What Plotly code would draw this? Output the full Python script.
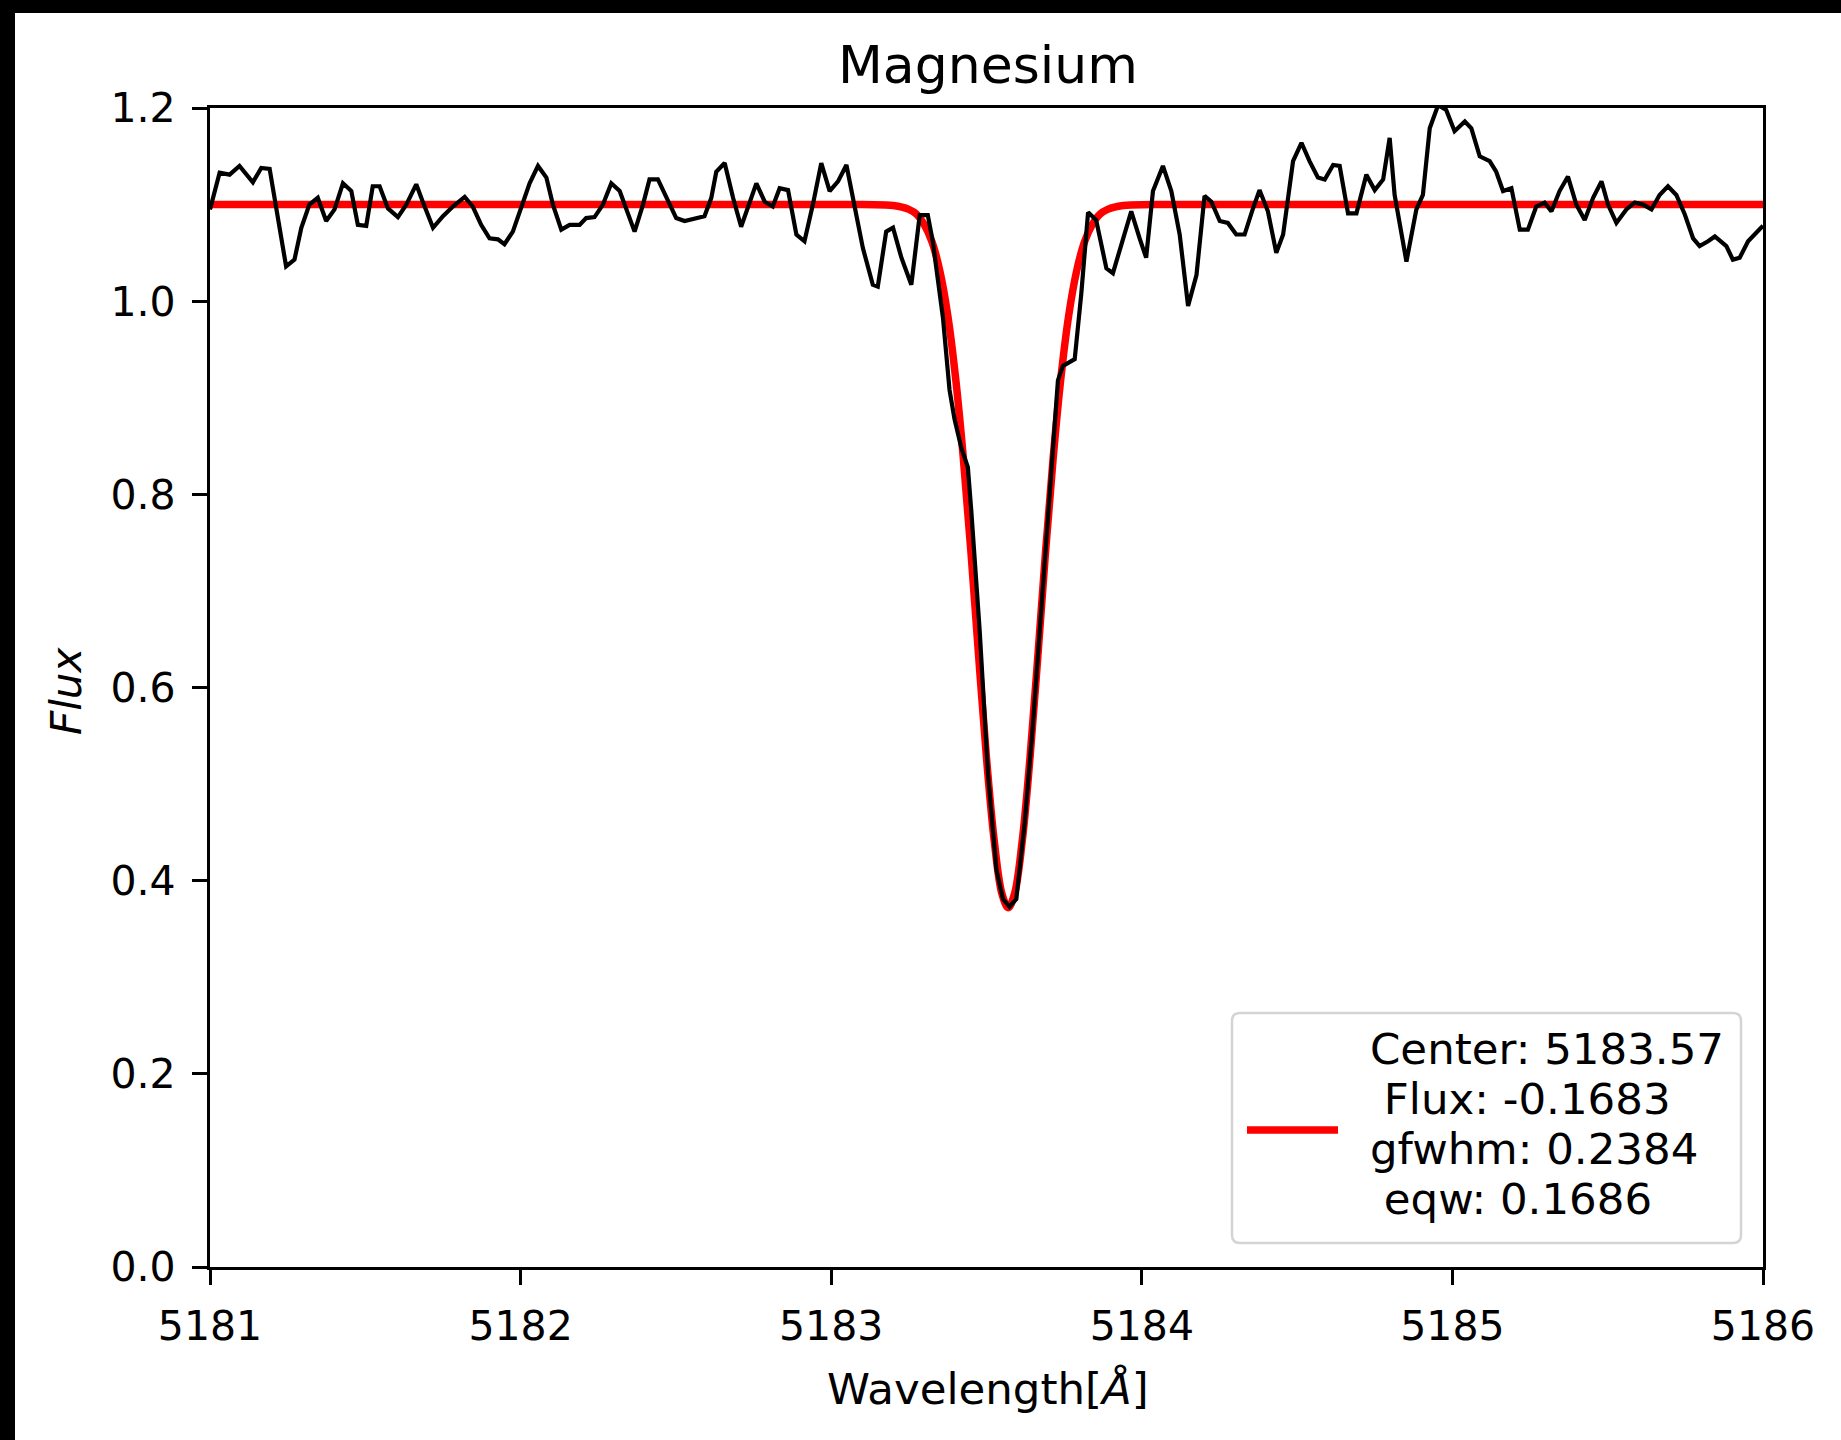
import plotly.graph_objects as go

# observed spectrum (wavelength in Angstrom, normalised flux)
wave = [
    5181.000, 5181.031, 5181.063, 5181.095, 5181.138, 5181.165, 5181.192, 5181.245, 5181.272, 5181.294,
    5181.320, 5181.347, 5181.374, 5181.401, 5181.428, 5181.455, 5181.476, 5181.503, 5181.524, 5181.546,
    5181.573, 5181.605, 5181.632, 5181.664, 5181.685, 5181.718, 5181.750, 5181.782, 5181.820, 5181.846,
    5181.873, 5181.900, 5181.927, 5181.948, 5181.975, 5182.002, 5182.029, 5182.056, 5182.083, 5182.104,
    5182.131, 5182.158, 5182.190, 5182.211, 5182.238, 5182.265, 5182.292, 5182.319, 5182.367, 5182.394,
    5182.415, 5182.442, 5182.469, 5182.501, 5182.528, 5182.560, 5182.592, 5182.614, 5182.630, 5182.657,
    5182.684, 5182.710, 5182.737, 5182.759, 5182.786, 5182.812, 5182.834, 5182.861, 5182.888, 5182.914,
    5182.941, 5182.968, 5182.995, 5183.022, 5183.049, 5183.075, 5183.102, 5183.134, 5183.150, 5183.177,
    5183.199, 5183.226, 5183.258, 5183.285, 5183.311, 5183.327, 5183.360, 5183.381, 5183.397, 5183.419,
    5183.440, 5183.451, 5183.478, 5183.505, 5183.532, 5183.553, 5183.574, 5183.596, 5183.623, 5183.649,
    5183.682, 5183.714, 5183.730, 5183.746, 5183.784, 5183.805, 5183.827, 5183.853, 5183.886, 5183.907,
    5183.939, 5183.966, 5183.993, 5184.014, 5184.036, 5184.068, 5184.095, 5184.122, 5184.149, 5184.176,
    5184.202, 5184.224, 5184.251, 5184.277, 5184.304, 5184.331, 5184.358, 5184.379, 5184.406, 5184.433,
    5184.455, 5184.487, 5184.514, 5184.540, 5184.567, 5184.589, 5184.616, 5184.637, 5184.664, 5184.691,
    5184.723, 5184.750, 5184.777, 5184.798, 5184.814, 5184.852, 5184.884, 5184.905, 5184.927, 5184.954,
    5184.980, 5185.007, 5185.040, 5185.061, 5185.088, 5185.120, 5185.141, 5185.163, 5185.190, 5185.217,
    5185.243, 5185.270, 5185.297, 5185.319, 5185.345, 5185.372, 5185.399, 5185.426, 5185.453, 5185.480,
    5185.501, 5185.528, 5185.560, 5185.587, 5185.614, 5185.641, 5185.667, 5185.694, 5185.721, 5185.748,
    5185.775, 5185.796, 5185.823, 5185.845, 5185.882, 5185.903, 5185.925, 5185.952, 5186.000,
]
flux = [
    1.095, 1.133, 1.131, 1.140, 1.123, 1.138, 1.137, 1.036, 1.043, 1.076,
    1.100, 1.107, 1.083, 1.095, 1.122, 1.114, 1.079, 1.078, 1.119, 1.119,
    1.096, 1.087, 1.100, 1.121, 1.103, 1.076, 1.088, 1.098, 1.108, 1.098,
    1.079, 1.065, 1.064, 1.059, 1.072, 1.096, 1.122, 1.140, 1.128, 1.100,
    1.074, 1.079, 1.079, 1.086, 1.087, 1.100, 1.122, 1.114, 1.072, 1.100,
    1.126, 1.126, 1.107, 1.086, 1.083, 1.086, 1.088, 1.107, 1.134, 1.143,
    1.107, 1.077, 1.103, 1.122, 1.103, 1.098, 1.117, 1.115, 1.069, 1.062,
    1.100, 1.143, 1.114, 1.124, 1.141, 1.100, 1.055, 1.017, 1.015, 1.072,
    1.076, 1.045, 1.017, 1.089, 1.089, 1.062, 0.982, 0.908, 0.878, 0.848,
    0.828, 0.783, 0.659, 0.510, 0.411, 0.381, 0.373, 0.381, 0.460, 0.560,
    0.709, 0.858, 0.918, 0.933, 0.940, 1.007, 1.092, 1.084, 1.034, 1.029,
    1.062, 1.093, 1.065, 1.045, 1.114, 1.140, 1.114, 1.069, 0.995, 1.027,
    1.109, 1.103, 1.083, 1.081, 1.069, 1.069, 1.096, 1.115, 1.093, 1.050,
    1.069, 1.145, 1.164, 1.145, 1.128, 1.126, 1.141, 1.140, 1.091, 1.091,
    1.131, 1.115, 1.126, 1.169, 1.110, 1.041, 1.095, 1.110, 1.179, 1.203,
    1.198, 1.176, 1.186, 1.179, 1.150, 1.145, 1.134, 1.114, 1.117, 1.074,
    1.074, 1.098, 1.102, 1.093, 1.114, 1.129, 1.100, 1.084, 1.107, 1.124,
    1.100, 1.081, 1.095, 1.102, 1.100, 1.095, 1.110, 1.119, 1.110, 1.090,
    1.065, 1.057, 1.062, 1.067, 1.057, 1.043, 1.045, 1.062, 1.078,
]

# gaussian fit as drawn (red)
fit_wave = [
    5181.00, 5183.10, 5183.20, 5183.25, 5183.275, 5183.30, 5183.325, 5183.35, 5183.375, 5183.40,
    5183.425, 5183.45, 5183.475, 5183.50, 5183.525, 5183.55, 5183.57, 5183.59, 5183.615, 5183.64,
    5183.665, 5183.69, 5183.715, 5183.74, 5183.765, 5183.79, 5183.815, 5183.84, 5183.865, 5183.89,
    5183.94, 5184.04, 5186.00,
]
fit_flux = [
    1.100, 1.100, 1.099, 1.095, 1.090, 1.079, 1.061, 1.031, 0.986, 0.922,
    0.839, 0.740, 0.631, 0.527, 0.441, 0.386, 0.372, 0.386, 0.441, 0.527,
    0.631, 0.740, 0.839, 0.922, 0.986, 1.031, 1.061, 1.079, 1.090, 1.095,
    1.099, 1.100, 1.100,
]

legend_lines = ["Center: 5183.57", "\u00a0Flux: -0.1683", "gfwhm: 0.2384", "\u00a0eqw: 0.1686"]

FONT = "DejaVu Sans"
W, H = 1841, 1440
ML, MR, MT, MB = 210, 78, 108, 173
PW, PH = W - ML - MR, H - MT - MB


def px(x):
    return (x - ML) / PW


def py(y):
    return (H - MB - y) / PH


fig = go.Figure()
fig.add_trace(go.Scatter(x=fit_wave, y=fit_flux, mode="lines", line=dict(color="red", width=7.5, shape="spline"),
                         showlegend=False))
fig.add_trace(go.Scatter(x=wave, y=flux, mode="lines", line=dict(color="black", width=4.2), showlegend=False))

axis_style = dict(showgrid=False, zeroline=False, showline=True, mirror=True, linecolor="black", linewidth=3.3,
                  ticks="outside", ticklen=15, tickwidth=3.3, tickcolor="black",
                  tickfont=dict(family=FONT, size=41, color="black"))
fig.update_xaxes(range=[5181, 5186], tick0=5181, dtick=1, ticklabelstandoff=6, **axis_style)
fig.update_yaxes(range=[0, 1.2], tick0=0, dtick=0.2, tickformat=".1f", ticklabelstandoff=8, **axis_style)

# legend box drawn by hand
x0, x1, y0, y1 = px(1232), px(1741), py(1243), py(1013)
rx, ry = 8 / PW, 8 / PH
path = (f"M {x0+rx},{y0} L {x1-rx},{y0} Q {x1},{y0} {x1},{y0+ry} L {x1},{y1-ry} Q {x1},{y1} {x1-rx},{y1} "
        f"L {x0+rx},{y1} Q {x0},{y1} {x0},{y1-ry} L {x0},{y0+ry} Q {x0},{y0} {x0+rx},{y0} Z")
shapes = [
    dict(type="rect", xref="paper", yref="paper", x0=-0.3, x1=1.3, y0=py(13), y1=py(-20),
         fillcolor="black", line=dict(width=0), layer="above"),
    dict(type="rect", xref="paper", yref="paper", x0=-0.3, x1=px(15), y0=-0.3, y1=1.3,
         fillcolor="black", line=dict(width=0), layer="above"),
    dict(type="path", xref="paper", yref="paper", path=path, fillcolor="white",
         line=dict(color="#d4d4d4", width=2.5), layer="above"),
    dict(type="line", xref="paper", yref="paper", x0=px(1247), x1=px(1338), y0=py(1130), y1=py(1130),
         line=dict(color="red", width=7.5), layer="above"),
]

annotations = [
    dict(text="Magnesium", x=px(988), y=py(65), font=dict(size=52)),
    dict(text="Wavelength[<i>Å</i>]", x=px(988), y=py(1389), font=dict(size=43.5)),
    dict(text="<i>Flux</i>", x=px(66), y=py(691), textangle=-90, font=dict(size=42)),
]
for i, line in enumerate(legend_lines):
    annotations.append(dict(text=line, x=px(1368), y=py(1049 + i * 50), xanchor="left", font=dict(size=43.5)))
for a in annotations:
    a.update(xref="paper", yref="paper", showarrow=False)
    a.setdefault("xanchor", "center")
    a["yanchor"] = "middle"
    a["font"].update(family=FONT, color="black")

fig.update_layout(
    width=W, height=H,
    margin=dict(l=ML, r=MR, t=MT, b=MB, pad=0),
    plot_bgcolor="white", paper_bgcolor="white",
    font=dict(family=FONT, color="black"),
    shapes=shapes, annotations=annotations,
)

fig.write_html("out.html", config={"displayModeBar": False},
               post_script="document.body.style.margin='0';document.body.style.overflow='hidden';")
